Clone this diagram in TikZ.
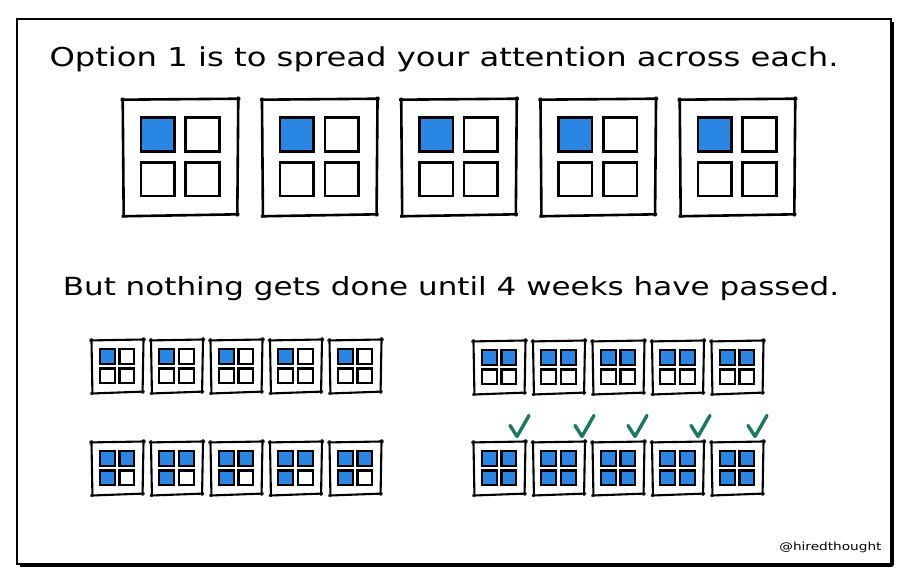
\documentclass[tikz,border=0pt]{standalone}
\usepackage{fontspec}
\setmainfont{DejaVu Sans}
\newfontfamily\handfont[FakeStretch=1.24]{DejaVu Sans}
\usetikzlibrary{calc}

\definecolor{taskblue}{RGB}{41,134,226}
\definecolor{checkgreen}{RGB}{27,122,92}

% one project: outer square, four cells, the first #5 of them done
\newcommand{\winbox}[5]{%
  \node[outerbox, minimum size=#4] (#1) at ({#2},{#3}) {};
  % sides run a little past the corners, as if drawn by hand
  \draw ([shift={(-2,0)}]#1.north west) -- ([shift={(3,-1)}]#1.north east);
  \draw ([shift={(-1,2)}]#1.south west) -- ([shift={(2,0)}]#1.south east);
  \draw ([shift={(0,-2)}]#1.north west) -- ([shift={(1,3)}]#1.south west);
  \draw ([shift={(1,-3)}]#1.north east) -- ([shift={(0,2)}]#1.south east);
  \foreach \dx/\dy [count=\k] in {-1/-1,1/-1,-1/1,1/1}{
    \ifnum\k>#5 \def\cellfill{white}\else\def\cellfill{taskblue}\fi
    \node[cell, minimum size=0.3*#4, fill=\cellfill] (#1-\k) at ([shift={({\dx*0.2*#4},{\dy*0.2*#4})}]#1.center) {};
  }%
}

\begin{document}
\begin{tikzpicture}[x=1pt, y=-1pt,
    outerbox/.style={fill=white, inner sep=0pt},
    cell/.style={draw, inner sep=0pt},
    headline/.style={font=\handfont\fontsize{26}{30}\selectfont},
    check/.style={draw=checkgreen, line width=3.4, line cap=round, line join=round}]
  \useasboundingbox (0,0) rectangle (911,583);

  % frame
  \draw[line width=1.8] (17,19) rectangle (891,564);
  \draw[line width=3.4, line join=round] (20,565) -- (892,565) -- (892,22);

  \node[headline] (opt1) at (444,59) {Option 1 is to spread your attention across each.};

  % top row: five projects, one cell each
  \begin{scope}[line width=2.6]
    \foreach \i in {1,...,5}{
      \winbox{big\i}{180+139.25*(\i-1)}{157}{112}{1}
    }
  \end{scope}

  \node[headline, font=\handfont\fontsize{25}{30}\selectfont] (wait) at (451,289) {But nothing gets done until 4 weeks have passed.};

  % weeks 1 to 4
  \begin{scope}[line width=2.1]
    \foreach \i in {1,...,5}{
      \winbox{wkA\i}{117+59.5*(\i-1)}{366}{49}{1}
      \winbox{wkB\i}{499+59.5*(\i-1)}{367}{49}{2}
      \winbox{wkC\i}{117+59.5*(\i-1)}{468}{49}{3}
      \winbox{wkD\i}{499+59.5*(\i-1)}{468}{49}{4}
    }
  \end{scope}

  % done marks
  \foreach \i/\off in {1/18,2/23.5,3/17,4/20.5,5/18}{
    \draw[check] ([shift={(\off-7,-17)}]wkD\i.north) -- ([shift={(\off,-6)}]wkD\i.north) -- ([shift={(\off+12,-27)}]wkD\i.north);
  }

  \node[anchor=base east, font=\handfont\fontsize{11}{13}\selectfont] (sig) at (885,550) {@hiredthought};
\end{tikzpicture}
\end{document}
